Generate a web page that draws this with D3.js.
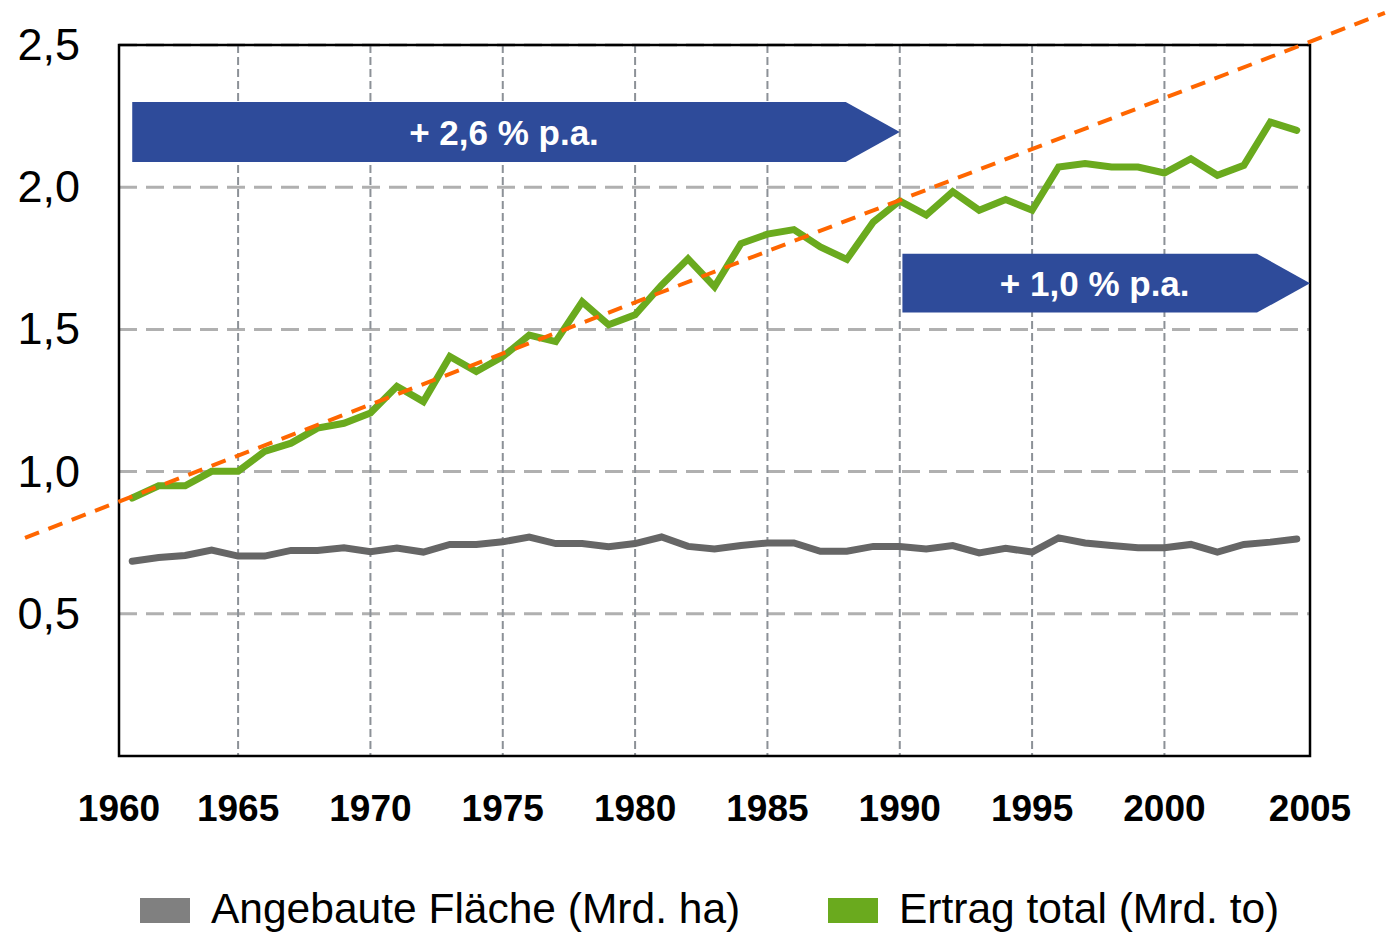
<!DOCTYPE html>
<html>
<head>
<meta charset="utf-8">
<script src="https://cdn.jsdelivr.net/npm/d3@7"></script>
<style>
  body { margin: 0; background: #fff; }
  svg { display: block; font-family: "Liberation Sans", Arial, sans-serif; }
</style>
</head>
<body>
<div id="chart"></div>
<script>
// years 1961..2005
const years = d3.range(1961, 2006);
const ertrag = [0.907, 0.95, 0.95, 1.001, 1.001, 1.071, 1.10, 1.153, 1.17, 1.206,
  1.30, 1.246, 1.405, 1.352, 1.404, 1.48, 1.457, 1.597, 1.516, 1.551,
  1.656, 1.748, 1.65, 1.802, 1.835, 1.851, 1.79, 1.746, 1.878, 1.952,
  1.902, 1.984, 1.919, 1.957, 1.919, 2.071, 2.083, 2.071, 2.071, 2.05,
  2.10, 2.042, 2.077, 2.229, 2.20];
const flaeche = [0.685, 0.698, 0.705, 0.724, 0.703, 0.703, 0.723, 0.723, 0.732, 0.718,
  0.731, 0.717, 0.744, 0.744, 0.753, 0.77, 0.747, 0.747, 0.736, 0.747,
  0.77, 0.737, 0.728, 0.74, 0.749, 0.749, 0.72, 0.72, 0.737, 0.737,
  0.728, 0.74, 0.714, 0.73, 0.717, 0.767, 0.749, 0.74, 0.732, 0.732,
  0.744, 0.717, 0.744, 0.752, 0.763];
// trend line (2,6 % p.a.), drawn past the plot on both sides
const trend = [[1956.95, 0.767], [2008.33, 2.613]];
const yTicks = [0.5, 1.0, 1.5, 2.0, 2.5];
const xGridYears = [1965, 1970, 1975, 1980, 1985, 1990, 1995, 2000];
const xLabels = [1960, 1965, 1970, 1975, 1980, 1985, 1990, 1995, 2000, 2005];
// annotation arrows: [startYear, endYear, top value, bottom value, text]
const arrows = [
  [1961, 1990, 2.30, 2.089, "+ 2,6 % p.a."],
  [1990.1, 2005.5, 1.766, 1.559, "+ 1,0 % p.a."]
];
const legendItems = [
  ["Angebaute Fläche (Mrd. ha)", "#808080"],
  ["Ertrag total (Mrd. to)", "#6aaa1e"]
];

const W = 1394, H = 934;
const margin = {top: 45, right: 84, bottom: 178, left: 119};
const width = W - margin.left - margin.right;
const height = H - margin.top - margin.bottom;

const svg = d3.select("#chart").append("svg")
  .attr("width", W)
  .attr("height", H);

const x = d3.scaleLinear().domain([1960.5, 2005.5]).range([margin.left, margin.left + width]);
const y = d3.scaleLinear().domain([0, 2.5]).range([margin.top + height, margin.top]);

const fmt = d => d3.format(".1f")(d).replace(".", ",");

// horizontal grid
svg.append("g")
  .selectAll("line")
  .data(yTicks)
  .join("line")
    .attr("x1", x.range()[0]).attr("x2", x.range()[1])
    .attr("y1", d => y(d)).attr("y2", d => y(d))
    .attr("stroke", "#b0b0b0")
    .attr("stroke-width", 3)
    .attr("stroke-dasharray", "18,9");

// vertical grid
svg.append("g")
  .selectAll("line")
  .data(xGridYears)
  .join("line")
    .attr("x1", d => x(d)).attr("x2", d => x(d))
    .attr("y1", y.range()[1]).attr("y2", y.range()[0])
    .attr("stroke", "#8c9197")
    .attr("stroke-width", 2)
    .attr("stroke-dasharray", "8,4");

// frame
svg.append("rect")
  .attr("x", margin.left).attr("y", margin.top)
  .attr("width", width).attr("height", height)
  .attr("fill", "none")
  .attr("stroke", "#000")
  .attr("stroke-width", 2.5);

// y labels
svg.append("g")
  .selectAll("text")
  .data(yTicks)
  .join("text")
    .attr("x", 80)
    .attr("y", d => y(d) + 15)
    .attr("text-anchor", "end")
    .attr("font-size", 45)
    .attr("fill", "#000")
    .text(fmt);

// x labels
svg.append("g")
  .selectAll("text")
  .data(xLabels)
  .join("text")
    .attr("x", d => d === 1960 ? x.range()[0] : d === 2005 ? x.range()[1] : x(d))
    .attr("y", 821)
    .attr("text-anchor", "middle")
    .attr("font-size", 37)
    .attr("font-weight", "bold")
    .attr("fill", "#000")
    .text(d => d);

// arrows
const arrowG = svg.append("g");
arrows.forEach(([a, b, top, bottom, label]) => {
  const x0 = x(a), x1 = x(b), y0 = y(top), y1 = y(bottom);
  const head = (y1 - y0) * 0.9;
  const ym = (y0 + y1) / 2;
  arrowG.append("path")
    .attr("d", `M${x0},${y0}H${x1 - head}L${x1},${ym}L${x1 - head},${y1}H${x0}Z`)
    .attr("fill", "#2e4b9a");
  arrowG.append("text")
    .attr("x", (x0 + x1 - head) / 2 + 15)
    .attr("y", ym + 13)
    .attr("text-anchor", "middle")
    .attr("font-size", 35)
    .attr("font-weight", "bold")
    .attr("fill", "#fff")
    .text(label);
});

// data lines
const line = d3.line().x((d, i) => x(years[i])).y(d => y(d));
svg.append("path")
  .datum(flaeche)
  .attr("d", line)
  .attr("fill", "none")
  .attr("stroke", "#666666")
  .attr("stroke-width", 7)
  .attr("stroke-linecap", "round");
svg.append("path")
  .datum(ertrag)
  .attr("d", line)
  .attr("fill", "none")
  .attr("stroke", "#6aaa1e")
  .attr("stroke-width", 7)
  .attr("stroke-linecap", "round");

// trend line
svg.append("path")
  .datum(trend)
  .attr("d", d3.line().x(d => x(d[0])).y(d => y(d[1])))
  .attr("fill", "none")
  .attr("stroke", "#ff6600")
  .attr("stroke-width", 4)
  .attr("stroke-dasharray", "15,10");

// legend
const legendX = [140, 828];
const legend = svg.append("g")
  .selectAll("g")
  .data(legendItems)
  .join("g")
    .attr("transform", (d, i) => `translate(${legendX[i]},898)`);
legend.append("rect")
  .attr("width", 50).attr("height", 25)
  .attr("fill", d => d[1]);
legend.append("text")
  .attr("x", 71).attr("y", 25)
  .attr("font-size", 42.5)
  .attr("fill", "#000")
  .text(d => d[0]);
</script>
</body>
</html>
